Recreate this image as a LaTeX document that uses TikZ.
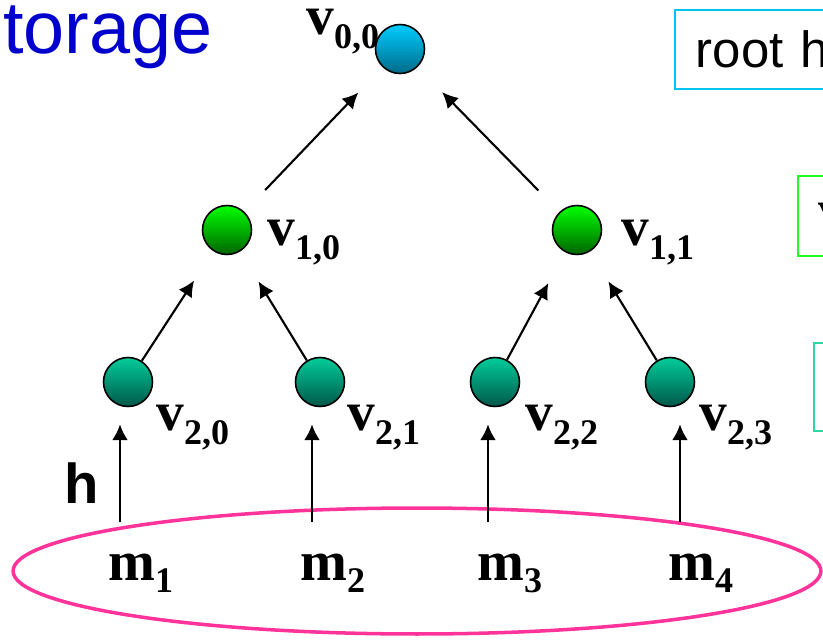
\documentclass[tikz,border=0pt]{standalone}
\usepackage{fontspec}
\setmainfont{Liberation Serif}
\newfontfamily\arialfont{Liberation Sans}
\usetikzlibrary{arrows.meta,shapes.geometric}

\definecolor{rootTop}{HTML}{00CCFF}
\definecolor{rootBot}{HTML}{006A88}
\definecolor{midTop}{HTML}{00FF00}
\definecolor{midBot}{HTML}{006400}
\definecolor{leafTop}{HTML}{00CC99}
\definecolor{leafBot}{HTML}{00574A}
\definecolor{titleBlue}{HTML}{0000CC}
\definecolor{msgPink}{HTML}{FF3399}
\definecolor{boxCyan}{HTML}{00C4F2}
\definecolor{boxGreen}{HTML}{22FF22}
\definecolor{boxTeal}{HTML}{2ED6A2}

\newcommand{\vsub}[3]{#1\raisebox{-#3}{\fontsize{20.5}{21}\selectfont #2}}

\begin{document}
\begin{tikzpicture}[
  x=0.02cm, y=-0.02cm,
  hnode/.style={circle, draw, line width=0.9pt, minimum size=0.98cm, inner sep=0pt},
  rootn/.style={hnode, top color=rootTop, bottom color=rootBot},
  midn/.style={hnode, top color=midTop, bottom color=midBot},
  leafn/.style={hnode, top color=leafTop, bottom color=leafBot},
  lab/.style={font=\bfseries\fontsize{31.5}{32}\selectfont, anchor=base west, inner sep=0pt},
  mlab/.style={font=\bfseries\fontsize{32}{32}\selectfont, anchor=base west, inner sep=0pt},
  arr/.style={-{Latex[length=9pt, width=9pt]}, line width=1.2pt},
  tag/.style={draw, line width=1.1pt, anchor=north west, inner xsep=0.42cm, inner ysep=0pt}
]
\useasboundingbox (0,0) rectangle (823,640);
\clip (0,0) rectangle (823,640);

%% ===== titulo y recuadros =====
\node[font=\arialfont\fontsize{42}{42}\selectfont, text=titleBlue, anchor=base west, inner sep=0pt]
  (title) at (3,53) {torage};
\node[tag, draw=boxCyan, minimum height=1.58cm, text width=3cm, align=left,
  font=\arialfont\fontsize{29}{29}\selectfont] (rootbox) at (674,9) {root h};
\node[tag, draw=boxGreen, minimum height=1.6cm, text width=3cm, align=left,
  font=\bfseries\fontsize{31.5}{32}\selectfont] (midbox) at (797,175) {v};
\node[tag, draw=boxTeal, minimum height=1.76cm, minimum width=3cm] (leafbox) at (813,342) {};

%% ===== arbol de hash =====
\node[rootn] (v00) at (400,49) {};
\node[midn] (v10) at (227,230) {};
\node[midn] (v11) at (577,230) {};
\node[leafn] (v20) at (128,382) {};
\node[leafn] (v21) at (320,382) {};
\node[leafn] (v22) at (495,382) {};
\node[leafn] (v23) at (670,382) {};

\node[lab] (l00) at (306,34) {\vsub{v}{0,0}{8pt}};
\node[lab] (l10) at (267,245) {\vsub{v}{1,0}{8.5pt}};
\node[lab] (l11) at (621,245) {\vsub{v}{1,1}{8.5pt}};
\node[lab] (l20) at (156,430) {\vsub{v}{2,0}{8.5pt}};
\node[lab] (l21) at (347,430) {\vsub{v}{2,1}{8.5pt}};
\node[lab] (l22) at (525,430) {\vsub{v}{2,2}{8.5pt}};
\node[lab] (l23) at (699,430) {\vsub{v}{2,3}{8.5pt}};

\draw[arr, shorten <=0.6cm, shorten >=0.7cm] (v10) -- (v00);
\draw[arr, shorten <=0.6cm, shorten >=0.7cm] (v11) -- (v00);
\draw[arr, shorten >=0.7cm] (v20) -- (v10);
\draw[arr, shorten >=0.7cm] (v21) -- (v10);
\draw[arr, shorten >=0.7cm] (v22) -- (v11);
\draw[arr, shorten >=0.7cm] (v23) -- (v11);

%% ===== mensajes =====
\node[draw=msgPink, line width=2pt, ellipse, minimum width=16.16cm, minimum height=2.52cm,
  inner sep=0pt] (msgs) at (417,571) {};
\node[mlab] (m1) at (108,580) {\vsub{m}{1}{7pt}};
\node[mlab] (m2) at (300,580) {\vsub{m}{2}{7pt}};
\node[mlab] (m3) at (477,580) {\vsub{m}{3}{7pt}};
\node[mlab] (m4) at (668,580) {\vsub{m}{4}{7pt}};

\coordinate (h1) at (120,522);
\coordinate (h2) at (312,522);
\coordinate (h3) at (488,522);
\coordinate (h4) at (680,522);
\draw[arr, shorten >=0.34cm] (h1) -- (h1 |- v20.south);
\draw[arr, shorten >=0.34cm] (h2) -- (h2 |- v21.south);
\draw[arr, shorten >=0.34cm] (h3) -- (h3 |- v22.south);
\draw[arr, shorten >=0.34cm] (h4) -- (h4 |- v23.south);

\node[font=\arialfont\bfseries\fontsize{32}{32}\selectfont, anchor=base west, inner sep=0pt]
  (hlab) at (64,503) {h};
\end{tikzpicture}
\end{document}
